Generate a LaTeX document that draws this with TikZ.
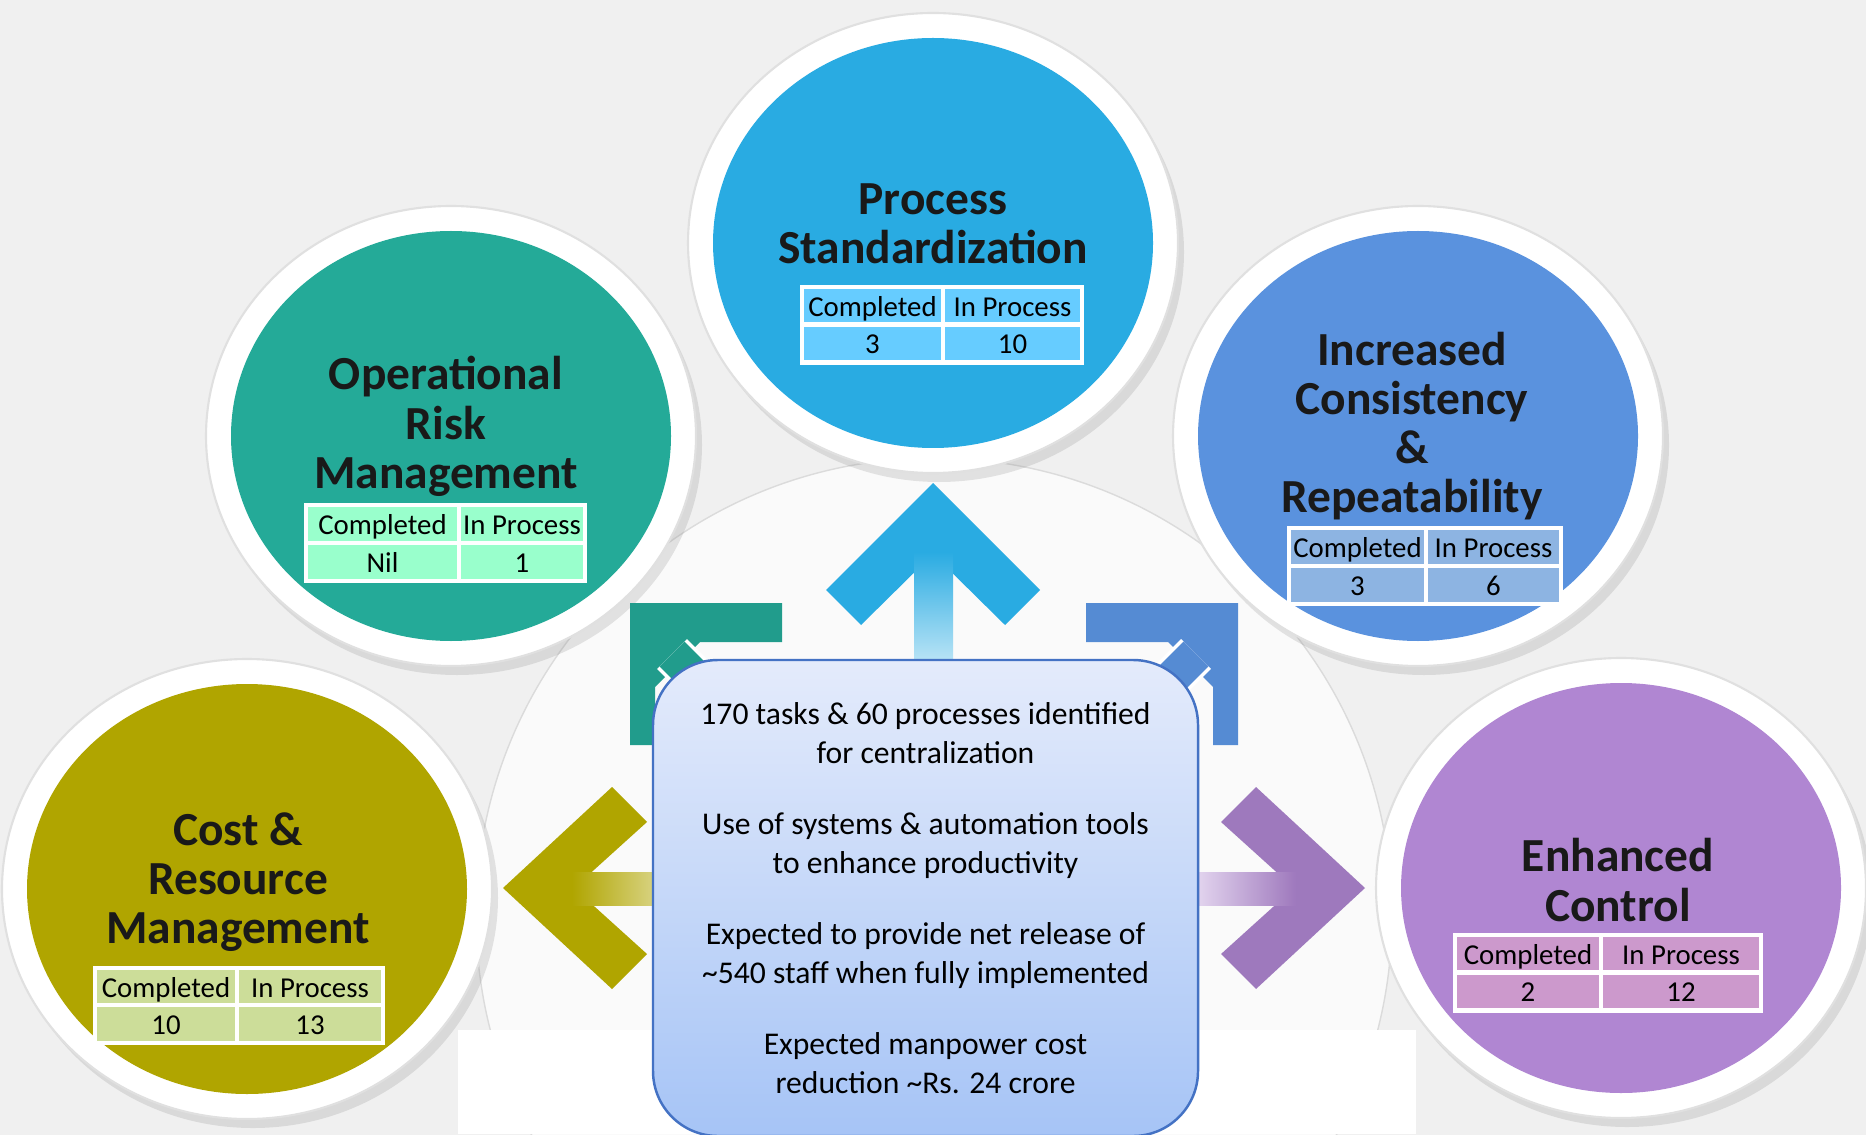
\documentclass[tikz,border=0pt]{standalone}
\usepackage{fontspec}
\setmainfont{Carlito}
\usetikzlibrary{shapes.geometric,shadows}

\definecolor{psblue}{RGB}{41,171,226}
\definecolor{orteal}{RGB}{36,170,152}
\definecolor{icblue}{RGB}{90,146,222}
\definecolor{crolive}{RGB}{176,165,0}
\definecolor{ecviolet}{RGB}{176,134,210}
\definecolor{psfill}{RGB}{102,204,255}
\definecolor{orfill}{RGB}{153,255,204}
\definecolor{icfill}{RGB}{141,180,226}
\definecolor{crfill}{RGB}{204,221,153}
\definecolor{ecfill}{RGB}{204,153,204}
\definecolor{boxtop}{RGB}{228,235,251}
\definecolor{boxbot}{RGB}{166,196,246}
\definecolor{boxedge}{RGB}{68,114,196}

\begin{document}
\begin{tikzpicture}[
    ring/.style={ellipse, inner sep=0, fill=white, draw=black!12, line width=0.6pt, minimum width=4.9cm, minimum height=4.6cm, drop shadow={opacity=0.2, shadow xshift=0.6mm, shadow yshift=-0.9mm}},
    disc/.style={ellipse, inner sep=0, minimum width=4.4cm, minimum height=4.1cm},
    heading/.style={align=center, font=\bfseries\fontsize{13.5}{14}\selectfont, text=black!90},
    cell/.style={rectangle, draw=white, line width=1.2pt, inner sep=0, minimum height=0.38cm, text height=1.55ex, text depth=0.35ex, font=\fontsize{8.2}{9}\selectfont},
    summary/.style={rectangle, rounded corners=0.65cm, draw=boxedge, line width=0.7pt, top color=boxtop, bottom color=boxbot, minimum width=5.45cm, minimum height=4.76cm, align=center, font=\fontsize{9}{10.95}\selectfont},
]
    \useasboundingbox (0,0) rectangle (18.66,11.34);

    % Background
    \shade[left color=black!6, middle color=black!1, right color=black!6] (0,0) rectangle (18.66,11.34);
    \draw[draw=black!14, fill=black!2] (9.34,2.18) circle (4.58);
    \fill[white] (4.58,0) rectangle (14.16,1.04);

    % Circles
    \node[ring] (psring) at (9.33,8.91) {};
    \node[disc, fill=psblue] (ps) at (psring) {};
    \node[ring] (orring) at (4.51,6.98) {};
    \node[disc, fill=orteal] (or) at (orring) {};
    \node[ring] (icring) at (14.18,6.98) {};
    \node[disc, fill=icblue] (ic) at (icring) {};
    \node[ring] (crring) at (2.47,2.45) {};
    \node[disc, fill=crolive] (cr) at (crring) {};
    \node[ring] (ecring) at (16.21,2.46) {};
    \node[disc, fill=ecviolet] (ec) at (ecring) {};

    % Arrows
    \fill[psblue] (9.33,6.51) -- (10.40,5.44) -- (10.05,5.09) -- (9.33,5.80) -- (8.61,5.09) -- (8.26,5.44) -- cycle;
    \shade[top color=psblue, bottom color=psblue!25] (9.14,5.82) rectangle (9.53,4.6);
    \fill[crolive] (5.03,2.46) -- (6.12,3.47) -- (6.47,3.12) -- (5.74,2.46) -- (6.47,1.80) -- (6.12,1.45) -- cycle;
    \shade[left color=crolive, right color=crolive!40] (5.72,2.29) rectangle (6.7,2.62);
    \fill[ecviolet!90!black] (13.65,2.46) -- (12.56,3.47) -- (12.21,3.12) -- (12.94,2.46) -- (12.21,1.80) -- (12.56,1.45) -- cycle;
    \shade[left color=ecviolet!30, right color=ecviolet!90!black] (11.9,2.29) rectangle (12.96,2.62);
    \fill[orteal!92!black] (6.30,5.31) -- (7.82,5.31) -- (7.82,4.92) -- (7.00,4.92) -- (6.55,4.47) -- (6.55,3.89) -- (6.30,3.89) -- cycle;
    \draw[white, line width=12pt] (6.72,4.80) -- (7.5,4.02);
    \draw[orteal!92!black, line width=10pt] (6.72,4.80) -- (7.5,4.02);
    \fill[icblue!95!black] (12.38,5.31) -- (10.86,5.31) -- (10.86,4.92) -- (11.68,4.92) -- (12.13,4.47) -- (12.13,3.89) -- (12.38,3.89) -- cycle;
    \draw[white, line width=12pt] (11.96,4.80) -- (11.18,4.02);
    \draw[icblue!95!black, line width=10pt] (11.96,4.80) -- (11.18,4.02);

    % Titles
    \node[heading] (pstitle) at (9.33,9.105) {Process\\Standardization};
    \node[heading] (ortitle) at (4.46,7.075) {Operational\\Risk\\Management};
    \node[heading] (ictitle) at (14.12,7.08) {Increased\\Consistency\\\&\\Repeatability};
    \node[heading] (crtitle) at (2.38,2.52) {Cost \&\\Resource\\Management};
    \node[heading] (ectitle) at (16.18,2.54) {Enhanced\\Control};

    % Tables
    \node[cell, fill=psfill, minimum width=1.41cm] (psdone) at (8.725,8.28) {Completed};
    \node[cell, fill=psfill, minimum width=1.39cm] (psopen) at (10.125,8.28) {In Process};
    \node[cell, fill=psfill, minimum width=1.41cm] (psdonen) at (8.725,7.905) {3};
    \node[cell, fill=psfill, minimum width=1.39cm] (psopenn) at (10.125,7.905) {10};

    \node[cell, fill=orfill, minimum width=1.53cm] (ordone) at (3.825,6.10) {Completed};
    \node[cell, fill=orfill, minimum width=1.26cm] (oropen) at (5.22,6.10) {In Process};
    \node[cell, fill=orfill, minimum width=1.53cm] (ordonen) at (3.825,5.72) {Nil};
    \node[cell, fill=orfill, minimum width=1.26cm] (oropenn) at (5.22,5.72) {1};

    \node[cell, fill=icfill, minimum width=1.37cm] (icdone) at (13.575,5.87) {Completed};
    \node[cell, fill=icfill, minimum width=1.35cm] (icopen) at (14.935,5.87) {In Process};
    \node[cell, fill=icfill, minimum width=1.37cm] (icdonen) at (13.575,5.49) {3};
    \node[cell, fill=icfill, minimum width=1.35cm] (icopenn) at (14.935,5.49) {6};

    \node[cell, fill=crfill, minimum width=1.42cm] (crdone) at (1.66,1.47) {Completed};
    \node[cell, fill=crfill, minimum width=1.46cm] (cropen) at (3.10,1.47) {In Process};
    \node[cell, fill=crfill, minimum width=1.42cm] (crdonen) at (1.66,1.10) {10};
    \node[cell, fill=crfill, minimum width=1.46cm] (cropenn) at (3.10,1.10) {13};

    \node[cell, fill=ecfill, minimum width=1.46cm] (ecdone) at (15.28,1.80) {Completed};
    \node[cell, fill=ecfill, minimum width=1.60cm] (ecopen) at (16.81,1.80) {In Process};
    \node[cell, fill=ecfill, minimum width=1.46cm] (ecdonen) at (15.28,1.425) {2};
    \node[cell, fill=ecfill, minimum width=1.60cm] (ecopenn) at (16.81,1.425) {12};

    % Summary
    \node[summary] (summary) at (9.255,2.36) {170 tasks \& 60 processes identified\\for centralization\\[9.4pt]
        Use of systems \& automation tools\\to enhance productivity\\[9.4pt]
        Expected to provide net release of\\\textasciitilde540 staff when fully implemented\\[9.4pt]
        Expected manpower cost\\reduction \textasciitilde Rs. 24 crore};
\end{tikzpicture}
\end{document}
